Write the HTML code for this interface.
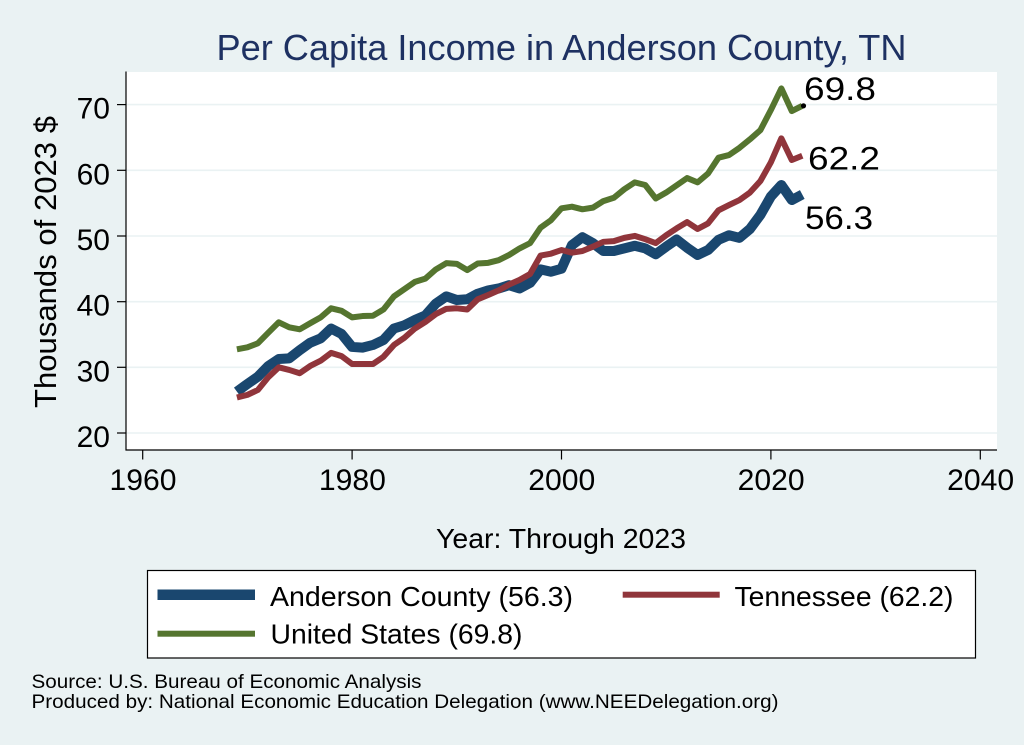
<!DOCTYPE html>
<html><head><meta charset="utf-8"><style>
html,body{margin:0;padding:0;background:#eaf2f3;}
svg{display:block;}
text{font-family:"Liberation Sans",Arial,sans-serif;}
</style></head><body>
<svg width="1024" height="745" viewBox="0 0 1024 745" xmlns="http://www.w3.org/2000/svg">
<rect x="0" y="0" width="1024" height="745" fill="#eaf2f3"/>
<rect x="126" y="72" width="871" height="378" fill="#ffffff"/>
<g stroke="#eaf2f3" stroke-width="1.6">
<line x1="126" y1="433" x2="997" y2="433"/>
<line x1="126" y1="367.3" x2="997" y2="367.3"/>
<line x1="126" y1="301.7" x2="997" y2="301.7"/>
<line x1="126" y1="236" x2="997" y2="236"/>
<line x1="126" y1="170.3" x2="997" y2="170.3"/>
<line x1="126" y1="104.6" x2="997" y2="104.6"/>
</g>
<g stroke="#000" stroke-width="1.2" fill="none">
<line x1="126" y1="71.5" x2="126" y2="450.5"/>
<line x1="125.5" y1="450" x2="997" y2="450"/>
<line x1="117" y1="433" x2="126" y2="433"/>
<line x1="117" y1="367.3" x2="126" y2="367.3"/>
<line x1="117" y1="301.7" x2="126" y2="301.7"/>
<line x1="117" y1="236" x2="126" y2="236"/>
<line x1="117" y1="170.3" x2="126" y2="170.3"/>
<line x1="117" y1="104.6" x2="126" y2="104.6"/>
<line x1="142.7" y1="450" x2="142.7" y2="459.5"/>
<line x1="352.1" y1="450" x2="352.1" y2="459.5"/>
<line x1="561.5" y1="450" x2="561.5" y2="459.5"/>
<line x1="770.9" y1="450" x2="770.9" y2="459.5"/>
<line x1="980.3" y1="450" x2="980.3" y2="459.5"/>
</g>
<g font-size="30" fill="#000" text-anchor="end">
<text x="110" y="447">20</text>
<text x="110" y="381.3">30</text>
<text x="110" y="315.7">40</text>
<text x="110" y="250">50</text>
<text x="110" y="184.3">60</text>
<text x="110" y="118.6">70</text>
</g>
<g font-size="29.5" fill="#000" text-anchor="middle">
<text x="143" y="490" textLength="67" lengthAdjust="spacingAndGlyphs">1960</text>
<text x="352.4" y="490" textLength="67" lengthAdjust="spacingAndGlyphs">1980</text>
<text x="561.8" y="490" textLength="67" lengthAdjust="spacingAndGlyphs">2000</text>
<text x="771.2" y="490" textLength="67" lengthAdjust="spacingAndGlyphs">2020</text>
<text x="980.6" y="490" textLength="67" lengthAdjust="spacingAndGlyphs">2040</text>
</g>
<text x="561" y="548" font-size="28" text-anchor="middle" textLength="250" lengthAdjust="spacingAndGlyphs">Year: Through 2023</text>
<text transform="translate(56,262) rotate(-90)" font-size="31" text-anchor="middle" textLength="292" lengthAdjust="spacingAndGlyphs">Thousands of 2023 $</text>
<text x="561.5" y="60" font-size="36.5" fill="#1e3162" text-anchor="middle" textLength="690" lengthAdjust="spacingAndGlyphs">Per Capita Income in Anderson County, TN</text>

<g transform="translate(236.9 564.4) scale(10.47 -6.57)" fill="none" stroke-linejoin="round" stroke-linecap="butt">
<polyline vector-effect="non-scaling-stroke" stroke="#1a476f" stroke-width="10" points="0,26.3 1,27.46 2,28.57 3,30.2 4,31.26 5,31.36 6,32.6 7,33.74 8,34.4 9,35.9 10,35.07 11,33.1 12,33.0 13,33.4 14,34.16 15,35.9 16,36.4 17,37.2 18,37.9 19,39.7 20,40.8 21,40.24 22,40.35 23,41.2 24,41.7 25,42.0 26,42.5 27,42.0 28,42.85 29,44.9 30,44.55 31,45.0 32,48.6 33,49.8 34,48.9 35,47.7 36,47.7 37,48.1 38,48.5 39,48.1 40,47.2 41,48.36 42,49.45 43,48.2 44,47.1 45,47.85 46,49.4 47,50.1 48,49.7 49,51.05 50,53.2 51,56.0 52,57.75 53,55.46 54,56.3"/>
<polyline vector-effect="non-scaling-stroke" stroke="#90353b" stroke-width="6" points="0,25.4 1,25.8 2,26.55 3,28.5 4,30.0 5,29.6 6,29.1 7,30.2 8,31.0 9,32.2 10,31.7 11,30.5 12,30.5 13,30.5 14,31.6 15,33.4 16,34.5 17,35.9 18,36.9 19,38.1 20,38.9 21,38.98 22,38.8 23,40.35 24,41.0 25,41.7 26,42.6 27,43.3 28,44.2 29,47.0 30,47.3 31,47.85 32,47.45 33,47.7 34,48.36 35,49.1 36,49.2 37,49.7 38,50.0 39,49.5 40,48.9 41,50.1 42,51.15 43,52.1 44,51.05 45,51.9 46,53.9 47,54.7 48,55.46 49,56.6 50,58.36 51,61.2 52,64.85 53,61.55 54,62.2"/>
<polyline vector-effect="non-scaling-stroke" stroke="#55752f" stroke-width="6" points="0,32.74 1,33.04 2,33.65 3,35.27 4,36.85 5,36.09 6,35.78 7,36.7 8,37.6 9,38.98 10,38.6 11,37.6 12,37.8 13,37.85 14,38.8 15,40.8 16,41.9 17,43.0 18,43.5 19,44.9 20,45.85 21,45.75 22,44.8 23,45.8 24,45.9 25,46.3 26,47.1 27,48.1 28,48.9 29,51.25 30,52.4 31,54.2 32,54.45 33,54.05 34,54.3 35,55.3 36,55.8 37,57.1 38,58.15 39,57.75 40,55.7 41,56.6 42,57.7 43,58.8 44,58.15 45,59.5 46,61.9 47,62.3 48,63.4 49,64.7 50,66.1 51,69.16 52,72.45 53,69.0 54,69.8"/>
</g>
<circle cx="803.5" cy="105.8" r="2.6" fill="#000"/>
<g font-size="32" fill="#000">
<text x="804" y="100" textLength="72" lengthAdjust="spacingAndGlyphs">69.8</text>
<text x="808" y="169.5" textLength="72" lengthAdjust="spacingAndGlyphs">62.2</text>
<text x="805" y="229" textLength="68" lengthAdjust="spacingAndGlyphs">56.3</text>
</g>

<rect x="147.5" y="570.5" width="828" height="87.5" fill="#ffffff" stroke="#000" stroke-width="1.2"/>
<rect x="157.5" y="589.5" width="97.5" height="10.5" fill="#1a476f"/>
<rect x="157.5" y="630.7" width="97.5" height="6" fill="#55752f"/>
<rect x="622.7" y="591.7" width="97" height="6" fill="#90353b"/>
<g font-size="28" fill="#000">
<text x="270" y="606" textLength="303" lengthAdjust="spacingAndGlyphs">Anderson County (56.3)</text>
<text x="270.5" y="643.3" textLength="252" lengthAdjust="spacingAndGlyphs">United States (69.8)</text>
<text x="734.5" y="606" textLength="219" lengthAdjust="spacingAndGlyphs">Tennessee (62.2)</text>
</g>
<g font-size="19.5" fill="#000">
<text x="31.5" y="688" textLength="390" lengthAdjust="spacingAndGlyphs">Source: U.S. Bureau of Economic Analysis</text>
<text x="31.5" y="708" textLength="747" lengthAdjust="spacingAndGlyphs">Produced by: National Economic Education Delegation (www.NEEDelegation.org)</text>
</g>
</svg>
</body></html>
